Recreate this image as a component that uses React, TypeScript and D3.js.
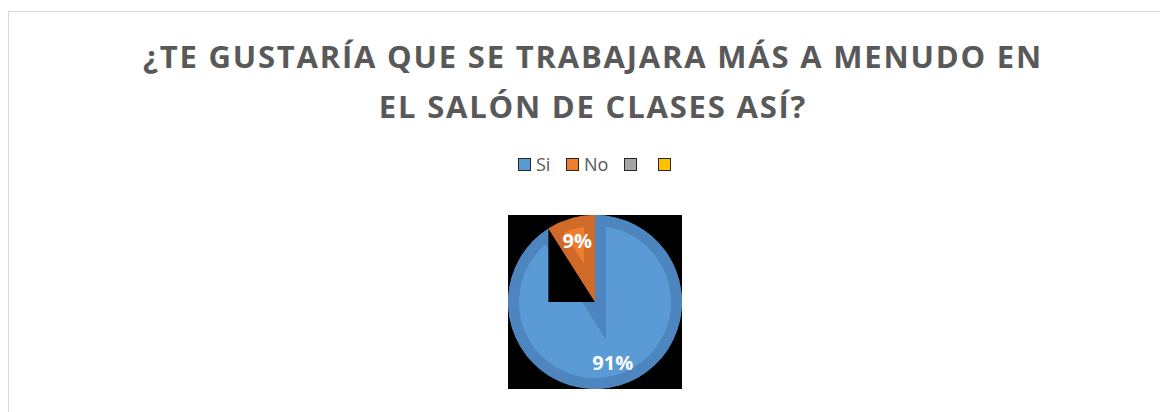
import React from "react";
import * as d3 from "d3";

const title = ["¿TE GUSTARÍA QUE SE TRABAJARA MÁS A MENUDO EN", "EL SALÓN DE CLASES ASÍ?"];
const categories = ["Si", "No", "", ""];
const values = [91, 9, 0, 0];
const colors = ["#5b9bd5", "#ed7d31", "#a5a5a5", "#ffc000"];
const edgeColors = ["#4d86bf", "#d06a28", "#8f8f8f", "#d9a400"];

const W = 1160;
const H = 404;
const cx = 587;
const cy = 294;
const R = 87;

function sliceBounds(a0: number, a1: number, r: number) {
  const pts: [number, number][] = [[0, 0]];
  const add = (a: number) => pts.push([r * Math.sin(a), -r * Math.cos(a)]);
  add(a0);
  add(a1);
  for (let k = 0; k < 8; k++) {
    const a = (k * Math.PI) / 2;
    if (a > a0 && a < a1) add(a);
  }
  const xs = pts.map((p) => p[0]);
  const ys = pts.map((p) => p[1]);
  return { x0: d3.min(xs)!, x1: d3.max(xs)!, y0: d3.min(ys)!, y1: d3.max(ys)! };
}

export default function App() {
  const total = d3.sum(values);
  const pie = d3.pie<number>().sort(null).value((d) => d)(values);
  const arc = d3.arc<d3.PieArcDatum<number>>().innerRadius(0).outerRadius(R);
  const labelArc = d3.arc<d3.PieArcDatum<number>>().innerRadius(R * 0.73).outerRadius(R * 0.73);
  const fmt = d3.format(".0%");

  const legendItems = categories.map((c, i) => ({ c, i }));
  const legendX = [510, 558, 616, 650];

  return (
    <svg width={W} height={H} style={{ display: "block", overflow: "hidden" }}>
      <rect x={0} y={0} width={W} height={H} fill="#ffffff" />
      <rect x={0.5} y={3.5} width={W + 50} height={H + 50} fill="#ffffff" stroke="#d9d9d9" strokeWidth={1} />
      <g fontFamily="'Open Sans', 'Liberation Sans', sans-serif" fontWeight={700} fill="#595959" textAnchor="middle">
        {title.map((t, i) => (
          <text key={i} x={593 - 8} y={60 + i * 50} fontSize={31} letterSpacing={1.8}>
            {t}
          </text>
        ))}
      </g>
      <g fontFamily="'Open Sans', 'Liberation Sans', sans-serif" fontSize={18} fill="#595959">
        {legendItems.map(({ c, i }) => (
          <g key={i} transform={`translate(${legendX[i]},150)`}>
            <rect x={0.5} y={0.5} width={12} height={12} fill={colors[i]} stroke="#262626" strokeWidth={1} />
            <text x={18} y={13}>{c}</text>
          </g>
        ))}
      </g>
      <g transform={`translate(${cx},${cy})`}>
        <defs>
          {pie.map((p, i) => (
            <clipPath id={`clip${i}`} key={i}>
              <path d={arc(p) || ""} />
            </clipPath>
          ))}
        </defs>
        <rect x={-R} y={-R} width={2 * R} height={2 * R} fill="#000000" />
        {pie.map((p, i) => {
          if (values[i] === 0) return null;
          const b = sliceBounds(p.startAngle, p.endAngle, R);
          return (
            <g key={i}>
              {i > 0 && (
                <rect x={b.x0} y={b.y0} width={b.x1 - b.x0} height={b.y1 - b.y0} fill="#000000" />
              )}
              <g clipPath={`url(#clip${i})`}>
                <path d={arc(p) || ""} fill={colors[i]} />
                <path d={arc(p) || ""} fill="none" stroke={edgeColors[i]} strokeWidth={22} strokeLinejoin="miter" />
              </g>
            </g>
          );
        })}
        {pie.map((p, i) => {
          if (values[i] === 0) return null;
          const [lx, ly] = labelArc.centroid(p);
          return (
            <text
              key={`l${i}`}
              x={lx}
              y={ly}
              dy="0.35em"
              textAnchor="middle"
              fontFamily="'Open Sans', 'Liberation Sans', sans-serif"
              fontWeight={700}
              fontSize={20}
              fill="#ffffff"
            >
              {fmt(values[i] / total)}
            </text>
          );
        })}
      </g>
    </svg>
  );
}
